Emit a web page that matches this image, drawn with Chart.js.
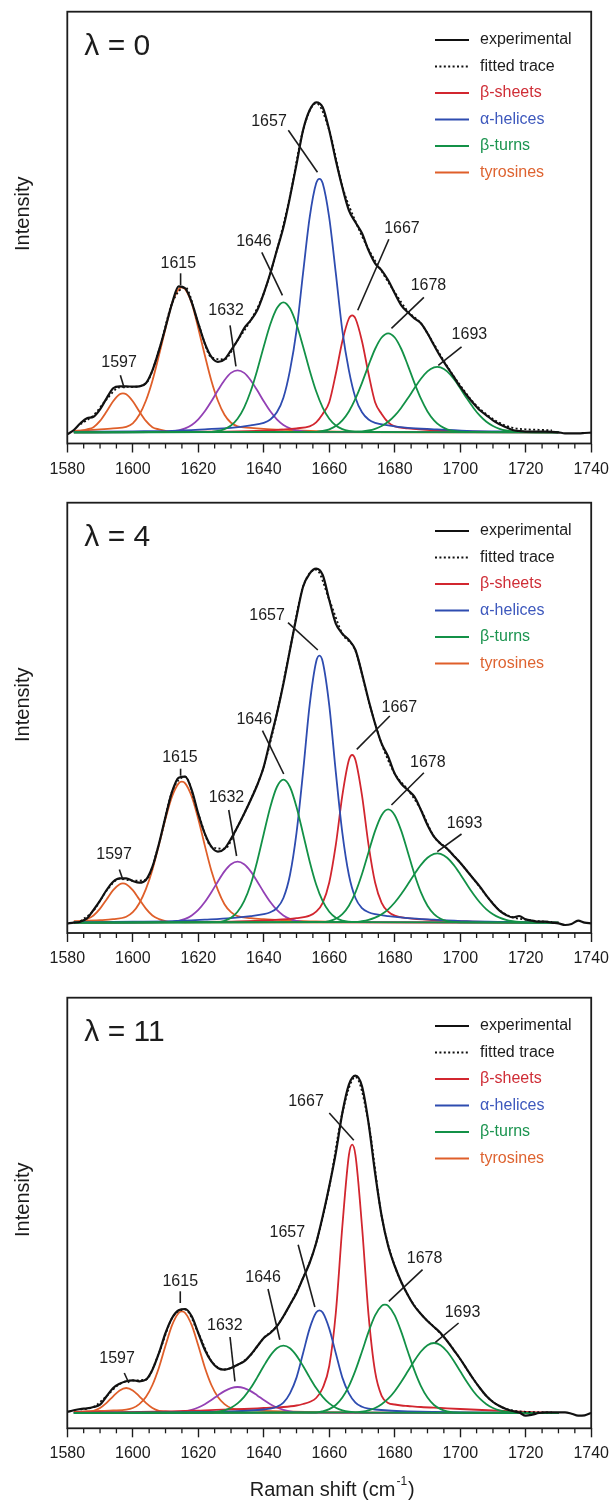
<!DOCTYPE html>
<html>
<head>
<meta charset="utf-8">
<script src="https://cdn.jsdelivr.net/npm/chart.js@4.4.1/dist/chart.umd.min.js"></script>
<style>
  body { margin: 0; background: #fff; }
  #wrap { position: relative; width: 616px; height: 1501px; }
  canvas { position: absolute; left: 0; }
</style>
</head>
<body>
<div id="wrap">
  <canvas id="c0" width="616" height="492" style="top:0px"></canvas>
  <canvas id="c1" width="616" height="490" style="top:492px"></canvas>
  <canvas id="c2" width="616" height="519" style="top:982px"></canvas>
</div>
<script>
// Raman shift grid of the measured spectra (cm-1)
const ramanShift = [
  1580,1582,1584,1586,1588,1590,1592,1594,1596,1598,
  1600,1602,1604,1606,1608,1610,1612,1614,1616,1618,
  1620,1622,1624,1626,1628,1630,1632,1634,1636,1638,
  1640,1642,1644,1646,1648,1650,1652,1654,1656,1658,
  1660,1662,1664,1666,1668,1670,1672,1674,1676,1678,
  1680,1682,1684,1686,1688,1690,1692,1694,1696,1698,
  1700,1702,1704,1706,1708,1710,1712,1714,1716,1718,
  1720,1722,1724,1726,1728,1730,1732,1734,1736,1738,
  1740
];

// experimental spectra (arbitrary intensity)
const exp0 = [
  -2,2.3,9,14,15.6,23,34,44,46,46,
  45.6,46,49,62,82,105,129,146,144,130,
  109,89,75.5,70.5,73,82,92,104,112,122,
  139,159,182,205,235,268,302,322,330,325,
  302,272,245,222,210,199,182,169,162,152,
  139,127,120,114,109,99,87,75.5,65.5,55.6,
  45.6,37,29,22,17,12,8,5,2.3,1.3,
  0.7,0.7,0.7,0.7,0.5,0,-1,-1,-1,-0.7,
  -0.3
];
const exp4 = [
  -0.7,0,1,4.3,12.7,22,32.7,41,44.3,44.3,
  41.7,40,42.7,56,79,106,131,145,146,132.7,
  109,89,76,71,74,84,96,109,122.7,137.7,
  156,182.7,209,239,272.7,306,336,349,354,347.7,
  322.7,299,289,282.7,272.7,249,222.7,199,179,166,
  149,139,132.7,126,112.7,97.7,86,79,74,67,
  60,52,44,36,27,19,12,7.7,5.3,6.7,
  3.3,2,1,1,0,-0.7,-2.3,-1.3,2,0,
  -0.7
];
const exp11 = [
  1,2.7,4,4.7,6,8.3,16.7,25,29.3,31.7,
  32.7,31.7,33.3,43.3,60,80,95,102.7,104,96.7,
  80,63.3,51.7,45,43.3,45,48.3,51.7,58.3,66.7,
  75,80,86.7,96.7,108.3,120,135,150,170,196.7,
  226.7,260,300,328.3,337.3,326.7,290,240,197,167,
  147,131,118,107,99,92,86,80,72,63,
  54,44,34,25,17,11,7,4,2,0.5,
  -2.7,-1.7,0,0.7,0.7,0.7,0.7,-0.7,-2.7,-2.3,
  0
];

// fitted traces
const fitShift = [
  1584,1588,1592,1596,1600,1604,1608,1612,1616,1620,
  1624,1628,1632,1636,1640,1644,1648,1652,1656,1660,
  1664,1668,1672,1676,1680,1684,1688,1692,1696,1700,
  1704,1708,1712,1716,1720,1724,1728
];
const fit0 = [8,17,33,45,45.5,49,82,129,145,109,75,73,92,112,139,182,236,302,329,302,246,211,183,161,140,121,109,88,66,47,30,18,9.5,4.5,3,2.5,2];
const fit4 = [1.5,12,32,44,42,43,79,131,146,109,76,74,96,123,156,209,273,336,353,323,289,272,222,179,149,133,113,86,74,60,44,27,12.5,5.5,3,1.5,0.8];
const fit11 = [3.5,6,17,29,32.5,33.5,60,95,103.5,80,52,43.5,48,58,75,87,108,135,170,226,300,336,290,197,147,118,99,86,72,54,34,17,7,2.5,1.2,0.8,0.6];

// fitted component bands, [shift, intensity]
const b0_1597 = [[1582,0.5],[1584,1.5],[1586,2.9],[1588,5.1],[1590,11.4],[1592,20.8],[1594,31.1],[1596,38],[1597,39],[1598,38],[1600,31.1],[1602,20.8],[1604,11.4],[1606,5.1],[1608,2.9],[1610,1.5],[1612,0.7],[1614,0.3],[1730,0]];
const b0_1615 = [[1582,1.5],[1590,3],[1594,4],[1598,5.5],[1600,9],[1602,17.5],[1604,31.5],[1606,51.5],[1608,77],[1610,104],[1612,129],[1614,143],[1615,145],[1616,143],[1618,129],[1620,104],[1622,77],[1624,51.5],[1626,31.5],[1628,17.5],[1630,9.5],[1632,6],[1636,4.5],[1640,3.5],[1646,2.5],[1656,1.2],[1670,0.5],[1730,0]];
const b0_1632 = [[1582,0],[1610,0.5],[1614,1.9],[1616,3.9],[1618,7.4],[1620,13],[1622,21],[1624,31],[1626,42],[1628,52.1],[1630,59.4],[1632,62],[1634,59.4],[1636,52.1],[1638,42],[1640,31],[1642,21],[1644,13],[1646,7.4],[1648,3.9],[1650,1.9],[1654,0.5],[1730,0]];
const b0_1646 = [[1582,0],[1624,0.5],[1626,1.3],[1628,3.1],[1630,6.8],[1632,13.5],[1634,24.7],[1636,41],[1638,62.1],[1640,85.8],[1642,108],[1644,124],[1646,130],[1648,124],[1650,108],[1652,85.8],[1654,62.1],[1656,41],[1658,24.7],[1660,13.5],[1662,6.8],[1664,3.1],[1666,1.3],[1670,0.3],[1730,0]];
const b0_1657 = [[1582,0.5],[1600,1],[1612,1.5],[1622,3],[1630,4.5],[1636,7],[1640,9.5],[1642,12.8],[1644,20],[1646,34.6],[1648,62],[1650,101.7],[1652,159.2],[1654,214.5],[1656,249],[1657,253.5],[1658,249],[1660,214.5],[1662,159.2],[1664,101.7],[1666,62],[1668,34.6],[1670,20],[1672,12.8],[1674,9.5],[1678,7],[1684,4.5],[1692,3],[1702,1.5],[1715,0.7],[1730,0]];
const b0_1667 = [[1582,0],[1620,0.7],[1632,1],[1642,2],[1650,4],[1654,6],[1656,10],[1658,18.4],[1660,30.1],[1662,58.5],[1664,91.1],[1666,113.8],[1667,117],[1668,113.8],[1670,91.1],[1672,58.5],[1674,30.1],[1676,18.4],[1678,10],[1680,6],[1684,4],[1692,2],[1702,1],[1730,0]];
const b0_1678 = [[1582,0],[1656,0.5],[1658,1.3],[1660,3],[1662,6.2],[1664,11.9],[1666,20.8],[1668,33.6],[1670,49.5],[1672,67],[1674,83.3],[1676,94.8],[1678,99],[1680,94.8],[1682,83.3],[1684,67],[1686,49.5],[1688,33.6],[1690,20.8],[1692,11.9],[1694,6.2],[1696,3],[1698,1.3],[1702,0.3],[1730,0]];
const b0_1693 = [[1582,0],[1666,0.4],[1670,0.9],[1672,1.8],[1674,3.5],[1676,6.3],[1678,10.5],[1680,16.6],[1682,24.6],[1684,34],[1686,44],[1688,53.5],[1690,60.9],[1692,65],[1693,65.5],[1694,65],[1696,60.9],[1698,53.5],[1700,44],[1702,34],[1704,24.6],[1706,16.6],[1708,10.5],[1710,6.3],[1712,3.5],[1714,1.8],[1716,0.9],[1720,0.3],[1730,0]];

const b4_1597 = [[1582,0.8],[1584,1.6],[1586,3.6],[1588,7.2],[1590,14.1],[1592,23.3],[1594,32.5],[1596,38.5],[1597,39.3],[1598,38.5],[1600,32.5],[1602,23.3],[1604,14.1],[1606,7.2],[1608,3.6],[1610,1.6],[1612,0.8],[1616,0.3],[1730,0]];
const b4_1615 = [[1582,1.5],[1590,2.5],[1594,3.5],[1598,6],[1600,10.5],[1602,19.5],[1604,33.5],[1606,53],[1608,78],[1610,104],[1612,126.2],[1614,139.3],[1615,141],[1616,139.3],[1618,126.2],[1620,103.6],[1622,77.1],[1624,52],[1626,32.5],[1628,18.5],[1630,10.5],[1632,6.5],[1636,4.5],[1640,3.5],[1646,2.5],[1656,1.2],[1670,0.5],[1730,0]];
const b4_1632 = [[1582,0],[1610,0.5],[1614,1.8],[1616,3.8],[1618,7.3],[1620,12.8],[1622,20.7],[1624,30.5],[1626,41.3],[1628,51.3],[1630,58.4],[1632,61],[1634,58.4],[1636,51.3],[1638,41.3],[1640,30.5],[1642,20.7],[1644,12.8],[1646,7.3],[1648,3.8],[1650,1.8],[1654,0.5],[1730,0]];
const b4_1646 = [[1582,0],[1626,0.5],[1628,2],[1630,4.9],[1632,10.9],[1634,21.5],[1636,38.2],[1638,61.5],[1640,89],[1642,115.8],[1644,135.7],[1646,143],[1648,135.7],[1650,115.8],[1652,89],[1654,61.5],[1656,38.2],[1658,21.5],[1660,10.9],[1662,4.9],[1664,2],[1668,0.5],[1730,0]];
const b4_1657 = [[1582,0.5],[1600,1],[1612,1.5],[1622,3],[1630,4.5],[1636,6.5],[1640,8.5],[1642,10.5],[1644,14.6],[1646,24.7],[1648,47.7],[1650,89.8],[1652,150.6],[1654,217.3],[1656,260.9],[1657,267],[1658,260.9],[1660,217.3],[1662,150.6],[1664,89.8],[1666,47.7],[1668,24.7],[1670,14.6],[1672,10.5],[1674,8.5],[1678,6.5],[1684,4.5],[1692,3],[1702,1.5],[1715,0.7],[1730,0]];
const b4_1667 = [[1582,0],[1620,0.7],[1632,1.2],[1642,2.5],[1650,4.5],[1654,7],[1656,11],[1658,19.9],[1660,40.2],[1662,77.8],[1664,127.3],[1666,162.7],[1667,167.7],[1668,162.7],[1670,127.3],[1672,77.8],[1674,40.2],[1676,19.9],[1678,11],[1680,7],[1684,4.5],[1692,2.5],[1702,1.2],[1730,0]];
const b4_1678 = [[1582,0],[1658,0.5],[1660,1.6],[1662,3.9],[1664,8.6],[1666,17],[1668,30.3],[1670,48.7],[1672,70.5],[1674,91.8],[1676,107.5],[1678,113.3],[1680,107.5],[1682,91.8],[1684,70.5],[1686,48.7],[1688,30.3],[1690,17],[1692,8.6],[1694,3.9],[1696,1.6],[1700,0.4],[1730,0]];
const b4_1693 = [[1582,0],[1668,0.7],[1670,1.5],[1672,2.8],[1674,5],[1676,8.5],[1678,13.4],[1680,20.2],[1682,28.7],[1684,38.4],[1686,48.5],[1688,57.8],[1690,64.9],[1692,68.8],[1693,69.3],[1694,68.8],[1696,64.9],[1698,57.8],[1700,48.5],[1702,38.4],[1704,28.7],[1706,20.2],[1708,13.4],[1710,8.5],[1712,5],[1714,2.8],[1716,1.5],[1718,0.7],[1722,0.2],[1730,0]];

const b11_1597 = [[1582,0.6],[1584,1],[1586,1.5],[1588,2.2],[1590,5],[1592,10.1],[1594,16.7],[1596,22.6],[1598,25],[1600,22.6],[1602,16.7],[1604,10.1],[1606,5],[1608,2.2],[1610,1.5],[1612,1],[1616,0.4],[1730,0]];
const b11_1615 = [[1582,1],[1590,2],[1594,2.5],[1598,3.4],[1600,5],[1602,8.9],[1604,15.9],[1606,28],[1608,45.5],[1610,67.4],[1612,87.8],[1614,100],[1615,101.7],[1616,100],[1618,87.8],[1620,67.4],[1622,45.5],[1624,28],[1626,15.9],[1628,8.9],[1630,5],[1632,3.6],[1636,2.8],[1640,2.2],[1646,1.5],[1656,0.8],[1670,0.3],[1730,0]];
const b11_1632 = [[1582,0],[1612,0.3],[1614,0.8],[1616,1.6],[1618,3.1],[1620,5.5],[1622,8.8],[1624,13],[1626,17.6],[1628,21.9],[1630,24.9],[1632,26],[1634,24.9],[1636,21.9],[1638,17.6],[1640,13],[1642,8.8],[1644,5.5],[1646,3.1],[1648,1.6],[1650,0.8],[1654,0.3],[1730,0]];
const b11_1646 = [[1582,0],[1624,0.4],[1626,1.3],[1628,2.7],[1630,5.3],[1632,9.6],[1634,16.1],[1636,24.9],[1638,35.6],[1640,47],[1642,57.4],[1644,64.7],[1646,67.3],[1648,64.7],[1650,57.4],[1652,47],[1654,35.6],[1656,24.9],[1658,16.1],[1660,9.6],[1662,5.3],[1664,2.7],[1666,1.3],[1670,0.3],[1730,0]];
const b11_1657 = [[1582,0.2],[1612,0.6],[1622,1.1],[1630,1.7],[1636,2.5],[1640,3.5],[1642,4.3],[1644,6.2],[1646,10.4],[1648,19.7],[1650,35.4],[1652,59.7],[1654,84.4],[1656,100.5],[1657,102.7],[1658,100.5],[1660,84.4],[1662,59.7],[1664,35.4],[1666,19.7],[1668,10.4],[1670,6.2],[1672,4.3],[1674,3.5],[1678,2.5],[1684,1.7],[1692,1.1],[1702,0.6],[1730,0]];
const b11_1667 = [[1582,0.5],[1610,1.5],[1622,2.7],[1634,4],[1640,5],[1646,6],[1650,7.5],[1652,9],[1654,11],[1656,15],[1658,25],[1660,47],[1662,100],[1664,186.7],[1666,257.8],[1667,268.3],[1668,257.8],[1670,186.7],[1672,98.2],[1674,41.3],[1676,17.2],[1678,10.1],[1680,8.5],[1682,7.5],[1684,7],[1688,6],[1694,5],[1700,4],[1710,2.5],[1720,1.2],[1730,0]];
const b11_1678 = [[1582,0],[1656,0.5],[1658,1.7],[1660,3.9],[1662,8],[1664,15.4],[1666,26.9],[1668,42.6],[1670,61.5],[1672,81.1],[1674,97.6],[1676,107.1],[1677,108.3],[1678,107.1],[1680,97.6],[1682,81.1],[1684,61.5],[1686,42.6],[1688,26.9],[1690,15.4],[1692,8],[1694,3.9],[1696,1.7],[1700,0.4],[1730,0]];
const b11_1693 = [[1582,0],[1668,0.7],[1670,1.4],[1672,2.7],[1674,5],[1676,8.8],[1678,14.3],[1680,21.8],[1682,31.2],[1684,41.7],[1686,52.3],[1688,61.5],[1690,67.8],[1692,70],[1694,67.8],[1696,61.5],[1698,52.3],[1700,41.7],[1702,31.2],[1704,21.8],[1706,14.3],[1708,8.8],[1710,5],[1712,2.7],[1714,1.4],[1716,0.7],[1720,0.2],[1730,0]];

// band assignment, same order as the band lists below (first is drawn on top)
const bandKinds = ['turn', 'turn', 'turn', 'helix', 'sheet', 'other', 'tyr', 'tyr'];

// peak labels: text, label x/y, leader start x/y, leader end x/y (data units)
const notes0 = [
  ['1597', 1595.8, 69.5, 1596.2, 57, 1597.4, 44],
  ['1615', 1613.9, 168.7, 1614.6, 159, 1614.6, 147],
  ['1632', 1628.5, 122, 1629.7, 107, 1631.5, 66],
  ['1646', 1637, 191, 1639.4, 180, 1645.7, 137],
  ['1657', 1641.6, 311, 1647.5, 302, 1656.4, 260],
  ['1667', 1682.2, 204, 1678.2, 193, 1668.7, 122],
  ['1678', 1690.3, 147, 1688.9, 135, 1679, 104],
  ['1693', 1702.8, 98, 1700.4, 85.5, 1693.3, 67]
];
const notes4 = [
  ['1597', 1594.3, 67.7, 1595.9, 53.3, 1597, 42.7],
  ['1615', 1614.4, 165, 1614.6, 154, 1614.6, 147],
  ['1632', 1628.6, 125, 1629.3, 112.7, 1631.7, 66.7],
  ['1646', 1637.1, 203, 1639.6, 192, 1646.1, 148.7],
  ['1657', 1641, 306.7, 1647.4, 300, 1656.5, 272.7],
  ['1667', 1681.4, 215, 1678.5, 206.7, 1668.4, 173.3],
  ['1678', 1690.1, 160, 1688.9, 150, 1679, 117.7],
  ['1693', 1701.3, 99.3, 1700.4, 88.7, 1693, 71]
];
const notes11 = [
  ['1597', 1595.2, 54.3, 1597.4, 40, 1598.8, 30],
  ['1615', 1614.5, 131.7, 1614.5, 121.7, 1614.5, 110],
  ['1632', 1628.1, 87.7, 1629.7, 76, 1631.2, 31.7],
  ['1646', 1639.8, 135, 1641.3, 124, 1644.9, 73.3],
  ['1657', 1647.2, 180.7, 1650.5, 168.3, 1655.6, 106],
  ['1667', 1652.9, 311, 1660, 300, 1667.5, 272.7],
  ['1678', 1689.1, 154, 1688.5, 143.3, 1678.2, 111.7],
  ['1693', 1700.7, 100, 1699.5, 90, 1692.4, 70.7]
];

const FONT = "'Liberation Sans', Arial, Helvetica, sans-serif";
const ink = '#1c1c1c';
const kindColor = { sheet: '#d2262f', helix: '#2e4cb0', turn: '#139147', tyr: '#df5f2a', other: '#9341b5' };

const legendRows = [
  { text: 'experimental', color: '#111', width: 2, dash: [], textColor: ink },
  { text: 'fitted trace', color: '#111', width: 2, dash: [2, 2.4], textColor: ink },
  { text: 'β-sheets', color: kindColor.sheet, width: 2, dash: [], textColor: '#cf2d36' },
  { text: 'α-helices', color: kindColor.helix, width: 2, dash: [], textColor: '#3d58bd' },
  { text: 'β-turns', color: kindColor.turn, width: 2, dash: [], textColor: '#1c9450' },
  { text: 'tyrosines', color: kindColor.tyr, width: 2, dash: [], textColor: '#de6330' }
];

const panels = [
  { id: 'c0', lambda: '0', exp: exp0, fit: fit0, notes: notes0, title: false,
    bands: [b0_1646, b0_1678, b0_1693, b0_1657, b0_1667, b0_1632, b0_1615, b0_1597],
    padTop: 11.7, xHeight: 48.5, yMin: -11.2, yMax: 420.6 },
  { id: 'c1', lambda: '4', exp: exp4, fit: fit4, notes: notes4, title: false,
    bands: [b4_1646, b4_1678, b4_1693, b4_1657, b4_1667, b4_1632, b4_1615, b4_1597],
    padTop: 10.7, xHeight: 49, yMin: -10.3, yMax: 420 },
  { id: 'c2', lambda: '11', exp: exp11, fit: fit11, notes: notes11, title: true,
    bands: [b11_1646, b11_1678, b11_1693, b11_1657, b11_1667, b11_1632, b11_1615, b11_1597],
    padTop: 15.7, xHeight: 72.7, yMin: -15.3, yMax: 415.3 }
];

const decor = {
  id: 'decor',
  afterDraw(chart, args, o) {
    const { ctx, chartArea: a, scales: { x, y } } = chart;
    ctx.save();

    // frame
    ctx.strokeStyle = ink;
    ctx.lineWidth = 1.8;
    ctx.strokeRect(a.left, a.top, a.right - a.left, a.bottom - a.top);

    // minor ticks every 5 cm-1
    ctx.lineWidth = 1.3;
    for (let v = 1585; v < 1740; v += 5) {
      if (v % 20 === 0) continue;
      const px = x.getPixelForValue(v);
      ctx.beginPath();
      ctx.moveTo(px, a.bottom);
      ctx.lineTo(px, a.bottom + 5);
      ctx.stroke();
    }

    ctx.fillStyle = ink;
    ctx.textBaseline = 'middle';

    // lambda tag
    ctx.textAlign = 'left';
    ctx.font = '30px ' + FONT;
    ctx.fillText('λ = ' + o.lambda, a.left + 17, a.top + 35);

    // y title
    ctx.save();
    ctx.translate(23, a.top + 202);
    ctx.rotate(-Math.PI / 2);
    ctx.textAlign = 'center';
    ctx.font = '20px ' + FONT;
    ctx.fillText('Intensity', 0, 0);
    ctx.restore();

    // legend
    ctx.font = '16px ' + FONT;
    legendRows.forEach((r, i) => {
      const ly = a.top + 28.3 + i * 26.5;
      ctx.strokeStyle = r.color;
      ctx.lineWidth = r.width;
      ctx.setLineDash(r.dash);
      ctx.beginPath();
      ctx.moveTo(435, ly);
      ctx.lineTo(469, ly);
      ctx.stroke();
      ctx.setLineDash([]);
      ctx.fillStyle = r.textColor;
      ctx.textAlign = 'left';
      ctx.fillText(r.text, 480, ly);
    });

    // peak labels with leader lines
    ctx.strokeStyle = ink;
    ctx.fillStyle = ink;
    ctx.lineWidth = 1.6;
    ctx.textAlign = 'center';
    o.notes.forEach(([t, tx, ty, x1, y1, x2, y2]) => {
      ctx.fillText(t, x.getPixelForValue(tx), y.getPixelForValue(ty));
      ctx.beginPath();
      ctx.moveTo(x.getPixelForValue(x1), y.getPixelForValue(y1));
      ctx.lineTo(x.getPixelForValue(x2), y.getPixelForValue(y2));
      ctx.stroke();
    });

    // x title on the last panel
    if (o.title) {
      const main = 'Raman shift (cm', sup = '-1', close = ')';
      ctx.font = '20px ' + FONT;
      const w1 = ctx.measureText(main).width;
      const w3 = ctx.measureText(close).width;
      ctx.font = '12px ' + FONT;
      const w2 = ctx.measureText(sup).width;
      const sx = (a.left + a.right) / 2 - (w1 + w2 + w3) / 2 + 2;
      const ty = chart.height - 11;
      ctx.textAlign = 'left';
      ctx.font = '20px ' + FONT;
      ctx.fillText(main, sx, ty);
      ctx.font = '12px ' + FONT;
      ctx.fillText(sup, sx + w1 + 1, ty - 8);
      ctx.font = '20px ' + FONT;
      ctx.fillText(close, sx + w1 + w2 + 2, ty);
    }
    ctx.restore();
  }
};

panels.forEach(p => {
  const datasets = [
    {
      label: 'experimental',
      data: ramanShift.map((v, i) => ({ x: v, y: p.exp[i] })),
      borderColor: '#111',
      borderWidth: 2.2
    },
    {
      label: 'fitted trace',
      data: fitShift.map((v, i) => ({ x: v, y: p.fit[i] })),
      borderColor: '#111',
      borderWidth: 1.8,
      borderDash: [2, 2.4]
    }
  ];
  p.bands.forEach((b, i) => {
    datasets.push({
      label: bandKinds[i],
      data: b.map(([x, y]) => ({ x, y })),
      borderColor: kindColor[bandKinds[i]],
      borderWidth: 1.8
    });
  });

  new Chart(document.getElementById(p.id), {
    type: 'line',
    data: { datasets },
    options: {
      responsive: false,
      animation: false,
      layout: { padding: { top: p.padTop, left: 67.3, right: 19.5, bottom: 0 } },
      elements: {
        point: { radius: 0 },
        line: { cubicInterpolationMode: 'monotone', fill: false }
      },
      plugins: {
        legend: { display: false },
        tooltip: { enabled: false },
        decor: { lambda: p.lambda, notes: p.notes, title: p.title }
      },
      scales: {
        x: {
          type: 'linear',
          min: 1580,
          max: 1740,
          afterFit: s => { s.height = p.xHeight; },
          ticks: {
            stepSize: 20,
            padding: 7,
            maxRotation: 0,
            autoSkip: false,
            color: ink,
            font: { family: FONT, size: 16 },
            callback: v => String(v)
          },
          grid: { drawOnChartArea: false, drawTicks: true, tickLength: 9, tickWidth: 1.4, tickColor: ink },
          border: { display: false }
        },
        y: { display: false, min: p.yMin, max: p.yMax }
      }
    },
    plugins: [decor]
  });
});
</script>
</body>
</html>
